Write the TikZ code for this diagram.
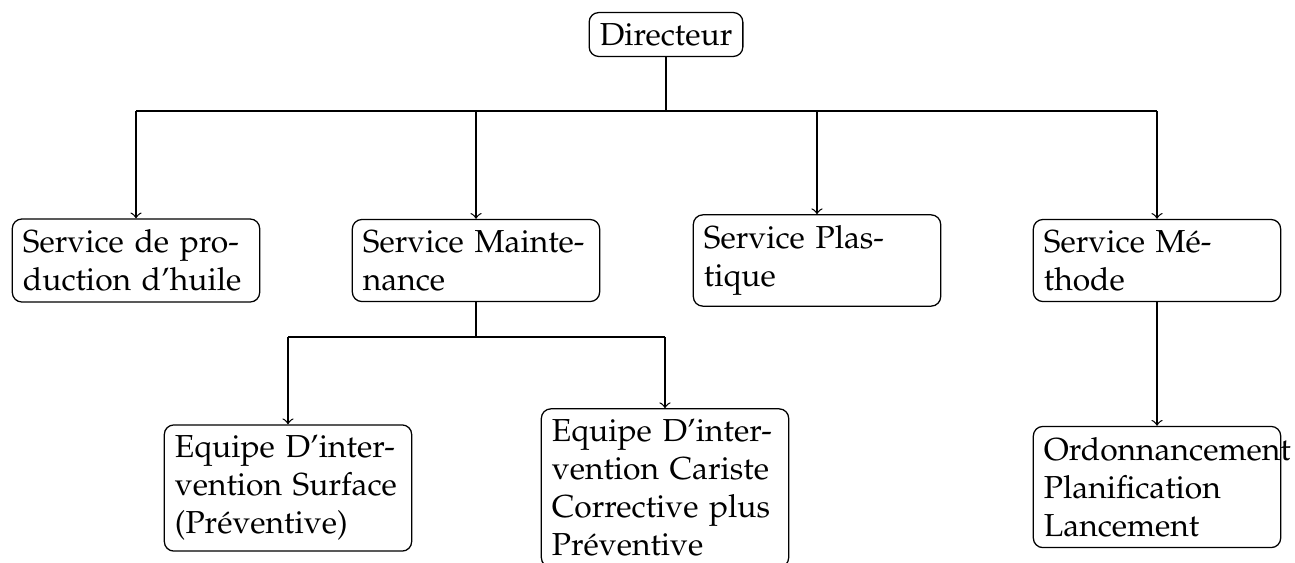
\documentclass[tikz,border=0pt]{standalone}
\usepackage[T1]{fontenc}
\usepackage{mathpazo}
\begin{document}
\begin{tikzpicture}[x=0.3145pt,y=-0.3145pt,
  box/.style={draw,rounded corners=3pt,align=left,text width=2.5cm,inner sep=3.33pt},
  topbox/.style={draw,rounded corners=3pt,inner sep=3.33pt},
  arr/.style={->}]
\useasboundingbox (0,0) rectangle (1295,562);
\node[topbox] (dir) at (666,34.5) {Directeur};
\node[box] (s1) at (136,260.5) {\mbox{Service de pro-}\\\mbox{duction d'huile}};
\node[box] (s2) at (476,260.5) {\mbox{Service Mainte-}\\\mbox{nance}};
\node[box] (s3) at (817,260.5) {\mbox{Service Plas-}\\\mbox{tique}};
\node[box] (s4) at (1157,260.5) {\mbox{Service M\'e-}\\\mbox{thode}};
\node[box] (e1) at (288,488) {\mbox{Equipe D'inter-}\\\mbox{vention Surface}\\\mbox{(Pr\'eventive)}};
\node[box] (e2) at (665,488) {\mbox{Equipe D'inter-}\\\mbox{vention Cariste}\\\mbox{Corrective plus}\\\mbox{Pr\'eventive}};
\node[box] (o) at (1157,487) {\mbox{Ordonnancement}\\\mbox{Planification}\\\mbox{Lancement}};
\coordinate (f1) at (666,111);
\coordinate (f2) at (476,337);
\draw (dir.south) -- (dir.south |- f1);
\draw (s1.north |- f1) -- (s4.north |- f1);
\draw[arr] (s1.north |- f1) -- (s1.north);
\draw[arr] (s2.north |- f1) -- (s2.north);
\draw[arr] (s3.north |- f1) -- (s3.north);
\draw[arr] (s4.north |- f1) -- (s4.north);
\draw (s2.south) -- (s2.south |- f2);
\draw (e1.north |- f2) -- (e2.north |- f2);
\draw[arr] (e1.north |- f2) -- (e1.north);
\draw[arr] (e2.north |- f2) -- (e2.north);
\draw[arr] (s4.south) -- (o.north);
\end{tikzpicture}
\end{document}
